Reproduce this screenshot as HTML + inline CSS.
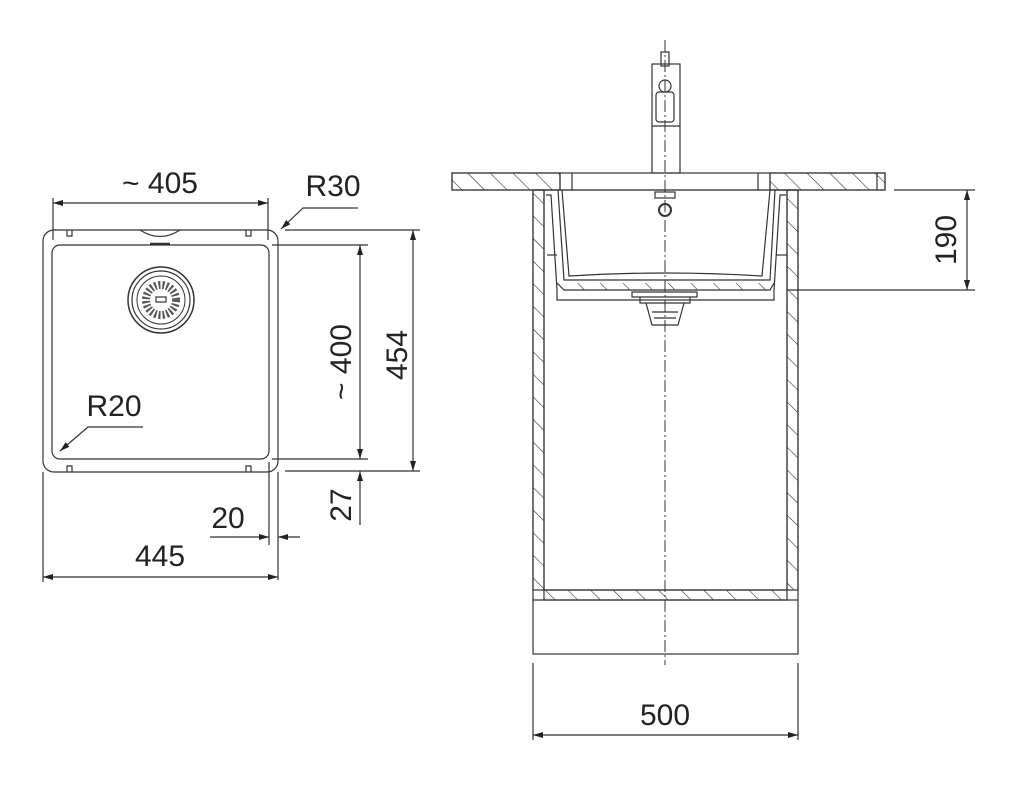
<!DOCTYPE html>
<html><head><meta charset="utf-8"><style>
html,body{margin:0;padding:0;background:#fff;}
svg{display:block;}
text{font-family:"Liberation Sans",sans-serif;fill:#222;}
</style></head><body>
<svg width="1024" height="787" viewBox="0 0 1024 787" xmlns="http://www.w3.org/2000/svg">
<defs>
<pattern id="h" patternUnits="userSpaceOnUse" width="16" height="16" patternTransform="rotate(-45)">
<line x1="0" y1="0" x2="0" y2="16" stroke="#333" stroke-width="1.2"/>
</pattern>
<marker id="a" viewBox="0 0 10 6" refX="10" refY="3" markerWidth="10" markerHeight="6" orient="auto-start-reverse" markerUnits="userSpaceOnUse">
<path d="M0,0 L10,3 L0,6 z" fill="#222"/>
</marker>
</defs>
<g stroke="#333" stroke-width="1.2" fill="none">
<rect x="43" y="230" width="235" height="242" rx="11"/>
<rect x="52" y="245" width="217" height="214" rx="8"/>
<path d="M140,230 Q160,243 180,230" />
<line x1="150" y1="244" x2="170" y2="244" stroke-width="2.5"/>
<path d="M67,230 v6 h5 v-6 M246,230 v6 h5 v-6 M67,472 v-6 h5 v6 M246,472 v-6 h5 v6"/>
<circle cx="161" cy="300" r="33" stroke-width="1.5"/>
<circle cx="161" cy="300" r="29"/>
<circle cx="161" cy="300" r="24" stroke-width="1"/>
<circle cx="161" cy="300" r="15" stroke="#555" stroke-width="8" stroke-dasharray="2 2"/>
<rect x="156" y="297" width="10" height="5"/>
<line x1="53" y1="198" x2="53" y2="240"/>
<line x1="268" y1="198" x2="268" y2="240"/>
<line x1="53" y1="203" x2="268" y2="203" marker-start="url(#a)" marker-end="url(#a)"/>
<polyline points="358,208 303,208 281,229" marker-end="url(#a)"/>
<polyline points="143,427 88,427 60,451" marker-end="url(#a)"/>
<line x1="285" y1="230" x2="420" y2="230"/>
<line x1="272" y1="245" x2="368" y2="245"/>
<line x1="272" y1="459" x2="368" y2="459"/>
<line x1="285" y1="471" x2="420" y2="471"/>
<line x1="360" y1="245" x2="360" y2="459" marker-start="url(#a)" marker-end="url(#a)"/>
<line x1="413" y1="230" x2="413" y2="471" marker-start="url(#a)" marker-end="url(#a)"/>
<line x1="360" y1="525" x2="360" y2="471" marker-end="url(#a)"/>
<line x1="269" y1="462" x2="269" y2="545"/>
<line x1="278" y1="472" x2="278" y2="580"/>
<line x1="210" y1="537" x2="269" y2="537" marker-end="url(#a)"/>
<line x1="300" y1="537" x2="278" y2="537" marker-end="url(#a)"/>
<line x1="43" y1="472" x2="43" y2="582"/>
<line x1="43" y1="577" x2="278" y2="577" marker-start="url(#a)" marker-end="url(#a)"/>

<rect x="452" y="173" width="108" height="17" fill="url(#h)"/>
<rect x="770" y="173" width="115" height="17" fill="url(#h)"/>
<rect x="452" y="173" width="433" height="17"/>
<line x1="560" y1="173" x2="560" y2="190"/>
<line x1="770" y1="173" x2="770" y2="190"/>
<line x1="572" y1="173" x2="572" y2="190"/>
<line x1="758" y1="173" x2="758" y2="190"/>
<line x1="877" y1="173" x2="877" y2="190"/>
<rect x="533" y="190" width="11" height="400" fill="url(#h)"/>
<rect x="787" y="190" width="11" height="400" fill="url(#h)"/>
<rect x="533" y="190" width="265" height="464"/>
<line x1="544" y1="190" x2="544" y2="590"/>
<line x1="787" y1="190" x2="787" y2="590"/>
<rect x="544" y="590" width="243" height="10" fill="url(#h)"/>
<line x1="533" y1="600" x2="798" y2="600"/>
<line x1="544" y1="590" x2="787" y2="590"/>
<path d="M546,195 L551,195 L557,290 L557,300 L774,300 L774,290 L780,195 L786,195" />
<path d="M558,190 L564,280 L770,280 L775,190"/>
<path d="M562,190 L569,276 Q665,270 762,276 L770,190"/>
<path d="M557,283 L564,290 L770,290 L774,283" fill="url(#h)"/>
<line x1="547" y1="255" x2="557" y2="255"/>
<line x1="776" y1="255" x2="787" y2="255"/>
<path d="M632,292 h65 v5 h-65 z M640,297 h50 v6 h-50 z M646,303 l6,22 h26 l6,-22" />
<path d="M652,312 h26 M654,318 h22" />
<rect x="655" y="192" width="20" height="6"/>
<circle cx="665" cy="210" r="6" stroke-width="2"/>
<rect x="652" y="64" width="28" height="109"/>
<line x1="652" y1="126" x2="680" y2="126"/>
<rect x="661" y="52" width="8" height="14"/>
<circle cx="665" cy="86" r="6"/>
<rect x="656" y="92" width="18" height="30" rx="3"/>
<line x1="665" y1="40" x2="665" y2="665" stroke-dasharray="12 3 2 3" stroke-width="1"/>
<line x1="894" y1="190" x2="975" y2="190"/>
<line x1="787" y1="290" x2="975" y2="290"/>
<line x1="967" y1="190" x2="967" y2="290" marker-start="url(#a)" marker-end="url(#a)"/>
<line x1="533" y1="663" x2="533" y2="740"/>
<line x1="798" y1="663" x2="798" y2="740"/>
<line x1="533" y1="735" x2="798" y2="735" marker-start="url(#a)" marker-end="url(#a)"/>
</g>
<g font-size="30">
<text x="160" y="193" text-anchor="middle">~ 405</text>
<text x="333" y="196" text-anchor="middle">R30</text>
<text x="114" y="416" text-anchor="middle">R20</text>
<text x="228" y="528" text-anchor="middle">20</text>
<text x="160" y="566" text-anchor="middle">445</text>
<text transform="translate(351,362) rotate(-90)" text-anchor="middle">~ 400</text>
<text transform="translate(407,355) rotate(-90)" text-anchor="middle">454</text>
<text transform="translate(351,505) rotate(-90)" text-anchor="middle">27</text>
<text transform="translate(956,240) rotate(-90)" text-anchor="middle">190</text>
<text x="665" y="725" text-anchor="middle">500</text>
</g>
</svg>
</body></html>
